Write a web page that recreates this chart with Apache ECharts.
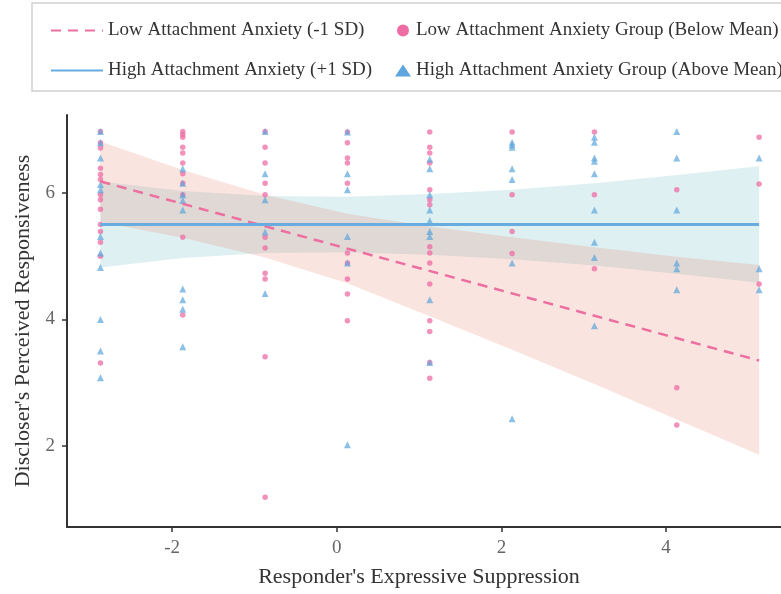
<!DOCTYPE html>
<html>
<head>
<meta charset="utf-8">
<script src="https://cdn.jsdelivr.net/npm/echarts@6/dist/echarts.min.js"></script>
<style>
  html, body { margin: 0; padding: 0; background: #fff; }
  #chart { width: 781px; height: 594px; }
</style>
</head>
<body>
<div id="chart"></div>
<script>
// ---- Data ----
const columnX = [-2.87, -1.87, -0.87, 0.13, 1.13, 2.13, 3.13, 4.13, 5.13];

// Low attachment anxiety group (pink circles), per x column
const lowGroup = [
  [6.97, 6.79, 6.71, 6.39, 6.29, 6.21, 5.97, 5.89, 5.74, 5.5, 5.39, 5.22, 5.0, 3.31],
  [6.97, 6.92, 6.88, 6.72, 6.63, 6.47, 6.3, 6.15, 5.97, 5.3, 4.07],
  [6.97, 6.72, 6.47, 6.15, 5.97, 5.3, 5.13, 4.73, 4.64, 3.41, 1.19],
  [6.96, 6.79, 6.55, 6.47, 6.15, 5.05, 4.89, 4.64, 4.4, 3.98],
  [6.96, 6.72, 6.63, 6.47, 6.05, 5.89, 5.81, 5.15, 5.05, 4.89, 4.56, 3.98, 3.81, 3.32, 3.07],
  [6.96, 5.97, 5.39, 5.04],
  [6.96, 5.97, 4.8],
  [6.05, 2.92, 2.33],
  [6.88, 6.14, 4.56]
];

// High attachment anxiety group (blue triangles), per x column
const highGroup = [
  [6.97, 6.79, 6.55, 6.13, 6.05, 5.31, 5.05, 4.82, 4.0, 3.5, 3.08],
  [6.38, 6.15, 5.97, 5.88, 5.73, 4.48, 4.31, 4.16, 3.57],
  [6.97, 6.3, 5.89, 5.38, 4.41],
  [6.96, 6.3, 6.05, 5.31, 4.89, 2.02],
  [6.53, 6.38, 5.97, 5.73, 5.56, 5.39, 5.31, 4.31, 3.32],
  [6.8, 6.76, 6.72, 6.38, 6.21, 4.89, 2.43],
  [6.88, 6.8, 6.55, 6.5, 6.3, 5.73, 5.22, 4.98, 3.9],
  [6.97, 6.55, 5.73, 4.89, 4.8, 4.47],
  [6.55, 4.8, 4.47]
];

// Fitted lines (endpoints)
const lineX = [-2.87, 5.13];
const lowLineY = [6.18, 3.35];
const highLineY = [5.5, 5.5];

// Confidence bands read at each column
const lowUpper = [6.81, 6.36, 5.97, 5.67, 5.47, 5.30, 5.14, 4.99, 4.86];
const lowLower = [5.54, 5.29, 4.98, 4.57, 4.05, 3.52, 2.98, 2.42, 1.86];
const highUpper = [6.18, 6.03, 5.95, 5.94, 5.98, 6.05, 6.15, 6.28, 6.42];
const highLower = [4.82, 4.97, 5.05, 5.06, 5.02, 4.95, 4.85, 4.72, 4.58];

// Axis ticks
const xTicks = [-2, 0, 2, 4];
const yTicks = [2, 4, 6];

// Names
const lowLineName = 'Low Attachment Anxiety (-1 SD)';
const highLineName = 'High Attachment Anxiety (+1 SD)';
const lowPtsName = 'Low Attachment Anxiety Group (Below Mean)';
const highPtsName = 'High Attachment Anxiety Group (Above Mean)';

// ---- Build ----
const FONT = '"Liberation Serif", "Times New Roman", serif';

function toPoints(groups) {
  const out = [];
  groups.forEach((col, i) => col.forEach(v => out.push([columnX[i], v])));
  return out;
}
function bandSeries(upper, lower, color, opacity, z) {
  return {
    type: 'custom',
    silent: true,
    z: z,
    data: [0],
    renderItem: function (params, api) {
      const pts = [];
      for (let i = 0; i < columnX.length; i++) pts.push(api.coord([columnX[i], upper[i]]));
      for (let i = columnX.length - 1; i >= 0; i--) pts.push(api.coord([columnX[i], lower[i]]));
      return {
        type: 'polygon',
        shape: { points: pts },
        style: { fill: color, opacity: opacity, stroke: null }
      };
    }
  };
}

const chart = echarts.init(document.getElementById('chart'), null, { renderer: 'canvas' });

const legendText = { fontFamily: FONT, fontSize: 19, color: '#333', lineHeight: 21 };

const option = {
  animation: false,
  backgroundColor: '#fff',
  graphic: [{
    type: 'rect',
    shape: { x: 32, y: 3, width: 800, height: 88 },
    style: { fill: 'none', stroke: '#cfcfcf', lineWidth: 1.5 },
    z: -1
  }],
  legend: [{
    orient: 'vertical',
    left: 45,
    top: 15,
    itemWidth: 52,
    itemHeight: 14,
    itemGap: 19,
    data: [lowLineName, highLineName],
    itemStyle: { color: 'rgba(0,0,0,0)', opacity: 0, borderWidth: 0 },
    textStyle: legendText
  }, {
    orient: 'vertical',
    left: 390,
    top: 15,
    itemWidth: 16,
    itemHeight: 12,
    itemGap: 19,
    data: [lowPtsName, highPtsName],
    itemStyle: { opacity: 1 },
    textStyle: legendText
  }],
  grid: { left: 67, top: 115, right: 0, height: 412, containLabel: false },
  xAxis: {
    type: 'value',
    min: -3.276,
    max: 5.396,
    name: "Responder's Expressive Suppression",
    nameLocation: 'middle',
    nameGap: 39,
    nameTextStyle: { fontFamily: FONT, fontSize: 22, color: '#333', padding: [0, 10, 0, 0] },
    axisLine: { show: true, onZero: false, lineStyle: { color: '#333', width: 2 } },
    axisTick: { show: true, length: 5, customValues: xTicks, lineStyle: { color: '#333', width: 1.5 } },
    axisLabel: { customValues: xTicks, margin: 12, fontFamily: FONT, fontSize: 19, color: '#666' },
    splitLine: { show: false }
  },
  yAxis: {
    type: 'value',
    min: 0.72,
    max: 7.23,
    name: "Discloser's Perceived Responsiveness",
    nameLocation: 'middle',
    nameGap: 29,
    nameRotate: 90,
    nameTextStyle: { fontFamily: FONT, fontSize: 22, color: '#333' },
    axisLine: { show: true, onZero: false, lineStyle: { color: '#333', width: 2 } },
    axisTick: { show: true, length: 5, customValues: yTicks, lineStyle: { color: '#333', width: 1.5 } },
    axisLabel: { customValues: yTicks, margin: 12, fontFamily: FONT, fontSize: 19, color: '#666' },
    splitLine: { show: false }
  },
  series: [
    bandSeries(highUpper, highLower, '#5FB4BE', 0.2, 1),
    bandSeries(lowUpper, lowLower, '#E67864', 0.2, 2),
    {
      name: lowPtsName,
      type: 'scatter',
      symbol: 'circle',
      symbolSize: 5.5,
      z: 3,
      itemStyle: { color: '#EE6CA4', opacity: 0.75 },
      data: toPoints(lowGroup)
    },
    {
      name: highPtsName,
      type: 'scatter',
      symbol: 'triangle',
      symbolSize: 7,
      z: 3,
      itemStyle: { color: '#5DA5DC', opacity: 0.7 },
      data: toPoints(highGroup)
    },
    {
      name: lowLineName,
      type: 'line',
      symbol: 'none',
      z: 4,
      lineStyle: { color: '#EC6FA0', width: 2.5, type: [10, 7] },
      itemStyle: { color: '#EC6FA0' },
      data: lineX.map((x, i) => [x, lowLineY[i]])
    },
    {
      name: highLineName,
      type: 'line',
      symbol: 'none',
      z: 4,
      lineStyle: { color: '#68ACE0', width: 3 },
      itemStyle: { color: '#68ACE0' },
      data: lineX.map((x, i) => [x, highLineY[i]])
    }
  ]
};
chart.setOption(option);
</script>
</body>
</html>
